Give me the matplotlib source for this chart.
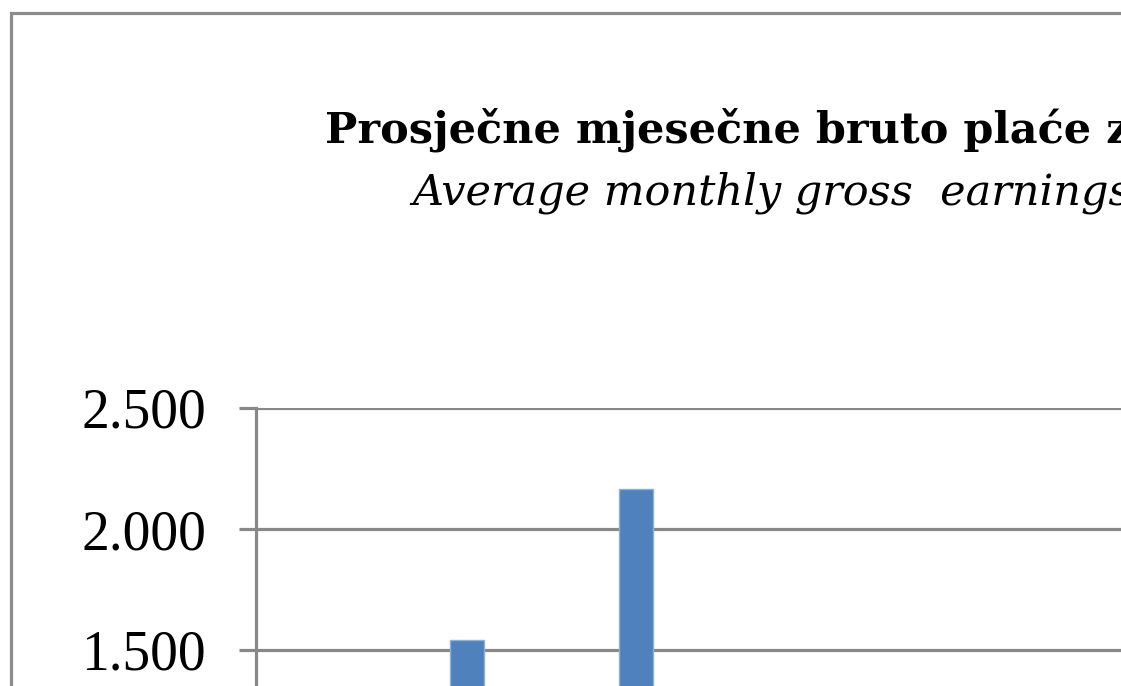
"""Average monthly gross earnings - cropped bar chart view."""
import matplotlib
matplotlib.use("Agg")
import matplotlib.pyplot as plt
from matplotlib.patches import Rectangle

# data (only the visible part of the chart)
title_hr = "Prosječne mjesečne bruto plaće z"
title_en = "Average monthly gross  earnings"
bar_pos = [1, 2]
bar_values = [1541, 2165]
y_ticks = [1500, 2000, 2500]
y_labels = ["1.500", "2.000", "2.500"]

W, H = 1121, 686
GRAY = "#888888"
BLUE = "#4F81BD"

fig = plt.figure(figsize=(W / 100, H / 100), dpi=100)
fig.patch.set_facecolor("white")


def fx(px):
    return px / W


def fy(py):
    return 1 - py / H


# outer chart frame
fig.patches.append(Rectangle((fx(11), fy(H + 20)), fx(W), fy(13) - fy(H + 20),
                             transform=fig.transFigure, fill=False,
                             edgecolor="#8c8c8c", linewidth=2.3))

# titles (the chart is cropped on the right, so they run off the edge)
fig.text(fx(325), fy(143), title_hr, fontsize=31, fontweight="bold",
         family="DejaVu Serif", ha="left", va="baseline")
fig.text(fx(412), fy(205), title_en, fontsize=31, style="italic",
         family="DejaVu Serif", ha="left", va="baseline")

# axes: top at y=408 px, left at x=256 px, running past the bottom / right edge
ax = fig.add_axes([fx(256), 0, 1 - fx(256), fy(408)])
ax.set_facecolor("none")
ax.bar(bar_pos, bar_values, width=0.2, color=BLUE, edgecolor="#8fb0d8",
       linewidth=1, zorder=3)

ax.set_ylim(1500 - (H - 650) / 121 * 500, 2500)
ax.set_xlim(1 - 211 / 169, 1 + (W - 467) / 169)
ax.set_yticks(y_ticks)
ax.set_yticklabels(y_labels, family="Liberation Serif", fontsize=40)
ax.set_xticks([])

ax.grid(axis="y", color=GRAY, linewidth=2.3, zorder=1)
ax.tick_params(axis="y", length=12, width=2.3, color=GRAY, pad=24)
for s in ["top", "right", "bottom"]:
    ax.spines[s].set_visible(False)
ax.spines["left"].set_color(GRAY)
ax.spines["left"].set_linewidth(2.3)

fig.savefig("out.png", dpi=100)
